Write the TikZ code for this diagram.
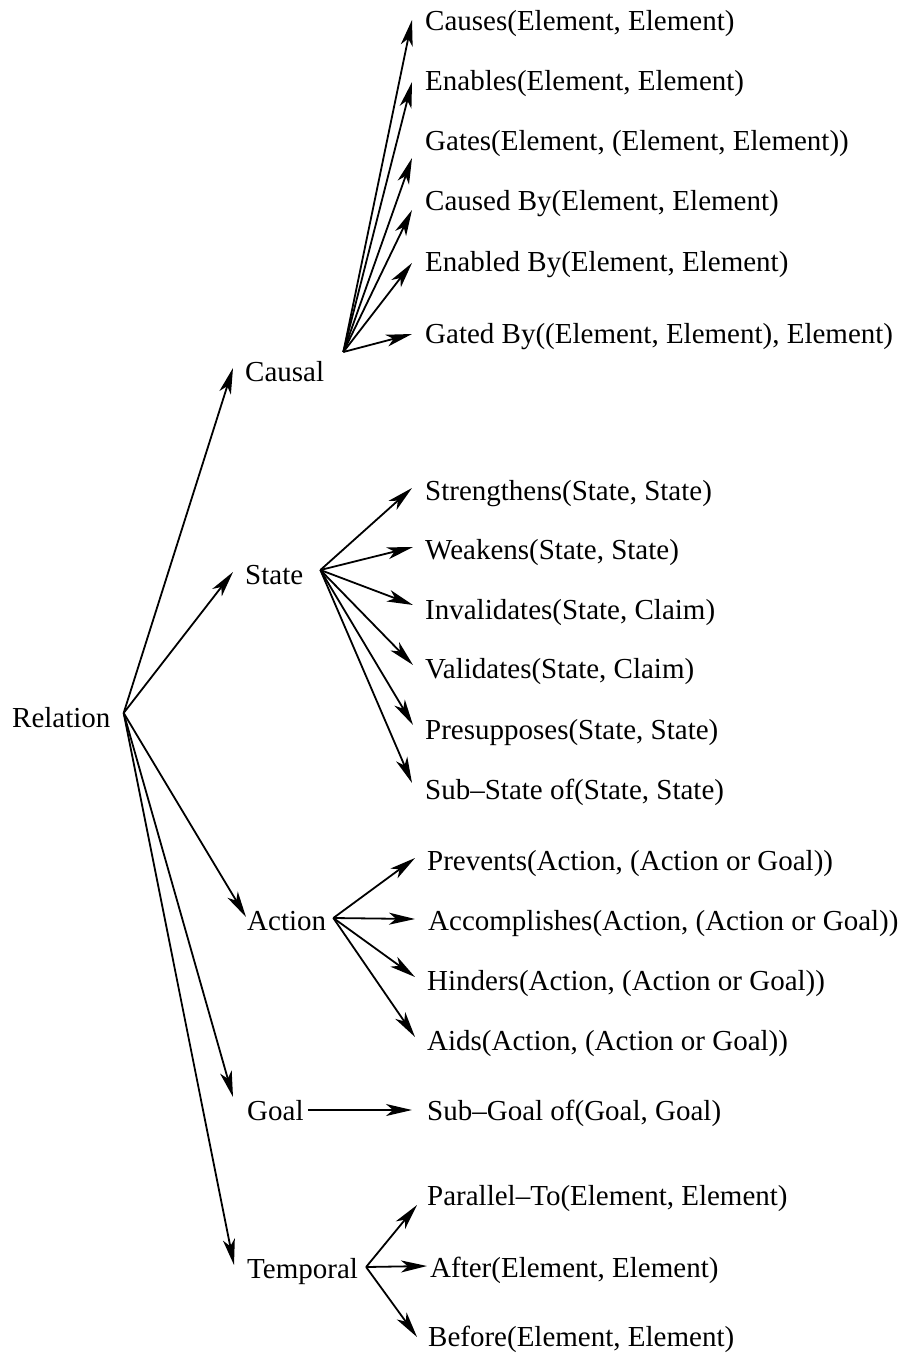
\documentclass[tikz,border=0pt]{standalone}
\usepackage{fontspec}
\setmainfont{Liberation Serif}
\usetikzlibrary{arrows.meta}
\begin{document}
\begin{tikzpicture}[x=1pt,y=-1pt,
  lbl/.style={anchor=base west, inner sep=0pt, font=\fontsize{29}{34}\selectfont},
  arr/.style={line width=1.8pt, -{Stealth[length=26pt,width=12pt,inset=7pt]}}]
\useasboundingbox (0,0) rectangle (903,1356);

% root and categories
\node[lbl] (relation) at (12,727)  {Relation};
\node[lbl] (causal)   at (245,381) {Causal};
\node[lbl] (state)    at (245,584) {State};
\node[lbl] (action)   at (247,930) {Action};
\node[lbl] (goal)     at (247,1120) {Goal};
\node[lbl] (temporal) at (247,1278) {Temporal};

% causal relations
\node[lbl] (causes)    at (425,31)  {Causes(Element, Element)};
\node[lbl] (enables)   at (425,91)  {Enables(Element, Element)};
\node[lbl] (gates)     at (425,151) {Gates(Element, (Element, Element))};
\node[lbl] (causedby)  at (425,211) {Caused By(Element, Element)};
\node[lbl] (enabledby) at (425,272) {Enabled By(Element, Element)};
\node[lbl] (gatedby)   at (425,343) {Gated By((Element, Element), Element)};

% state relations
\node[lbl] (strengthens) at (425,500) {Strengthens(State, State)};
\node[lbl] (weakens)     at (425,559) {Weakens(State, State)};
\node[lbl] (invalidates) at (425,619) {Invalidates(State, Claim)};
\node[lbl] (validates)   at (425,678) {Validates(State, Claim)};
\node[lbl] (presupposes) at (425,739) {Presupposes(State, State)};
\node[lbl] (substate)    at (425,799) {Sub--State of(State, State)};

% action relations
\node[lbl] (prevents)     at (427,870)  {Prevents(Action, (Action or Goal))};
\node[lbl] (accomplishes) at (428,930)  {Accomplishes(Action, (Action or Goal))};
\node[lbl] (hinders)      at (427,990)  {Hinders(Action, (Action or Goal))};
\node[lbl] (aids)         at (427,1050) {Aids(Action, (Action or Goal))};

% goal relation
\node[lbl] (subgoal) at (427,1120) {Sub--Goal of(Goal, Goal)};

% temporal relations
\node[lbl] (parallel) at (427,1205) {Parallel--To(Element, Element)};
\node[lbl] (after)    at (430,1277) {After(Element, Element)};
\node[lbl] (before)   at (428,1346) {Before(Element, Element)};

% fan-out points
\coordinate (relation-hub) at ([shift={(13,-14)}]relation.base east);
\coordinate (causal-hub)   at ([shift={(19,-29)}]causal.base east);
\coordinate (state-hub)    at ([shift={(17,-14)}]state.base east);
\coordinate (action-hub)   at ([shift={(7,-12)}]action.base east);
\coordinate (goal-hub)     at ([shift={(4,-10)}]goal.base east);
\coordinate (temporal-hub) at ([shift={(8,-11)}]temporal.base east);

% arrow tips beside each label
\coordinate (t-causal)   at ([shift={(-12,-13)}]causal.base west);
\coordinate (t-state)    at ([shift={(-12,-12)}]state.base west);
\coordinate (t-action)   at ([shift={(-1,-13)}]action.base west);
\coordinate (t-goal)     at ([shift={(-14,-23)}]goal.base west);
\coordinate (t-temporal) at ([shift={(-13,-13)}]temporal.base west);

\coordinate (t-causes)    at ([shift={(-13,-11)}]causes.base west);
\coordinate (t-enables)   at ([shift={(-13,-9)}]enables.base west);
\coordinate (t-gates)     at ([shift={(-13,7)}]gates.base west);
\coordinate (t-causedby)  at ([shift={(-13,-1)}]causedby.base west);
\coordinate (t-enabledby) at ([shift={(-13,-9)}]enabledby.base west);
\coordinate (t-gatedby)   at ([shift={(-13,-9)}]gatedby.base west);

\coordinate (t-strengthens) at ([shift={(-13,-12)}]strengthens.base west);
\coordinate (t-weakens)     at ([shift={(-12,-12)}]weakens.base west);
\coordinate (t-invalidates) at ([shift={(-12,-14)}]invalidates.base west);
\coordinate (t-validates)   at ([shift={(-12,-13)}]validates.base west);
\coordinate (t-presupposes) at ([shift={(-12,-14)}]presupposes.base west);
\coordinate (t-substate)    at ([shift={(-13,-16)}]substate.base west);

\coordinate (t-prevents)     at ([shift={(-12,-12)}]prevents.base west);
\coordinate (t-accomplishes) at ([shift={(-13,-11)}]accomplishes.base west);
\coordinate (t-hinders)      at ([shift={(-12,-13)}]hinders.base west);
\coordinate (t-aids)         at ([shift={(-12,-13)}]aids.base west);

\coordinate (t-subgoal) at ([shift={(-15,-10)}]subgoal.base west);

\coordinate (t-parallel) at ([shift={(-10,0)}]parallel.base west);
\coordinate (t-after)    at ([shift={(-3,-11)}]after.base west);
\coordinate (t-before)   at ([shift={(-11,-9)}]before.base west);

% connectors
\foreach \n in {causal,state,action,goal,temporal}
  \draw[arr] (relation-hub) -- (t-\n);
\foreach \n in {causes,enables,gates,causedby,enabledby,gatedby}
  \draw[arr] (causal-hub) -- (t-\n);
\foreach \n in {strengthens,weakens,invalidates,validates,presupposes,substate}
  \draw[arr] (state-hub) -- (t-\n);
\foreach \n in {prevents,accomplishes,hinders,aids}
  \draw[arr] (action-hub) -- (t-\n);
\draw[arr] (goal-hub) -- (t-subgoal);
\foreach \n in {parallel,after,before}
  \draw[arr] (temporal-hub) -- (t-\n);
\end{tikzpicture}
\end{document}
